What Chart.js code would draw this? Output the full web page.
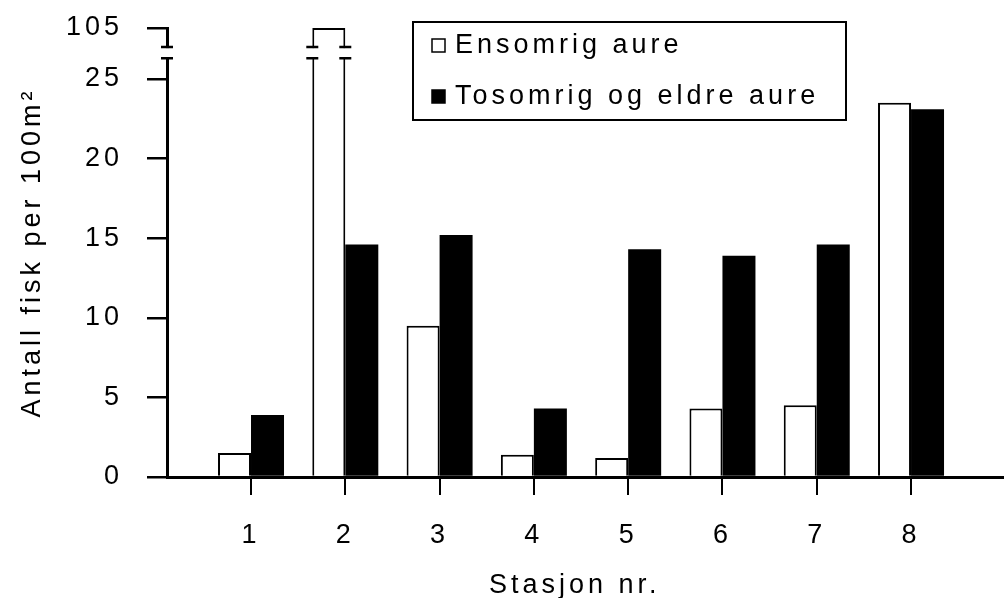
<!DOCTYPE html>
<html>
<head>
<meta charset="utf-8">
<script src="https://cdn.jsdelivr.net/npm/chart.js@4"></script>
<style>
  html, body { margin: 0; padding: 0; background: #fff; }
</style>
</head>
<body>
<canvas id="chart" width="1004" height="598"></canvas>
<script>
// ── Data ─────────────────────────────────────────────────────
const stations = [1, 2, 3, 4, 5, 6, 7, 8];
const ensomrig = [1.5, 105, 9.5, 1.4, 1.2, 4.3, 4.5, 23.5];
const tosomrig = [3.9, 14.6, 15.2, 4.3, 14.3, 13.9, 14.6, 23.1];
const yTicks = [0, 5, 10, 15, 20, 25, 105];
const seriesLabels = ['Ensomrig aure', 'Tosomrig og eldre aure'];
const xTitle = 'Stasjon nr.';

// ── Broken axis: anything above the break sits at the axis top ──
const BREAK_LOW = 26.3;
const BREAK_HIGH = 27.0;
const AXIS_TOP = 28.2;
const toAxis = v => (v > BREAK_HIGH ? AXIS_TOP : v);

const FONT = { family: '"Liberation Sans", Arial, Helvetica, sans-serif', size: 27 };
const SPACING = '4px';

// letter spacing for all text (old Mac-style wide type)
const spacingPlugin = {
    id: 'spacing',
    beforeDraw(chart) { chart.ctx.letterSpacing = SPACING; },
};

// axis break + broken bar + framed legend + x title
const breakPlugin = {
    id: 'axisBreak',
    afterDraw(chart) {
        const { ctx, scales: { x, y } } = chart;
        const yHi = y.getPixelForValue(BREAK_HIGH);
        const yLo = y.getPixelForValue(BREAK_LOW);
        const axisX = x.left;

        ctx.save();
        ctx.fillStyle = '#fff';
        ctx.strokeStyle = '#000';
        ctx.lineWidth = 2.5;

        // gap in the y axis
        ctx.fillRect(axisX - 4, yHi + 1, 8, yLo - yHi - 2);
        ctx.beginPath();
        ctx.moveTo(axisX - 6, yHi); ctx.lineTo(axisX + 6, yHi);
        ctx.moveTo(axisX - 6, yLo); ctx.lineTo(axisX + 6, yLo);
        ctx.stroke();

        // gap in every bar that crosses the break
        chart.data.datasets.forEach((ds, di) => {
            chart.getDatasetMeta(di).data.forEach((bar, i) => {
                if (ds.raw[i] <= BREAK_HIGH) return;
                const l = bar.x - bar.width / 2;
                const r = bar.x + bar.width / 2;
                ctx.fillRect(l - 3, yHi + 1, r - l + 6, yLo - yHi - 2);
                ctx.beginPath();
                [l, r].forEach(px => {
                    ctx.moveTo(px - 6, yHi); ctx.lineTo(px + 6, yHi);
                    ctx.moveTo(px - 6, yLo); ctx.lineTo(px + 6, yLo);
                });
                ctx.stroke();
            });
        });

        ctx.font = `${FONT.size}px ${FONT.family}`;
        ctx.letterSpacing = SPACING;
        ctx.textBaseline = 'middle';

        // x axis title (sits a bit left of the plot centre in the original)
        ctx.fillStyle = '#000';
        ctx.textAlign = 'left';
        ctx.fillText(xTitle, 489, 586);

        // legend box
        const bx = 413, by = 22, bw = 433, bh = 98;
        ctx.fillStyle = '#fff';
        ctx.fillRect(bx, by, bw, bh);
        ctx.lineWidth = 2;
        ctx.strokeRect(bx, by, bw, bh);
        const rows = [45, 96];
        chart.data.datasets.forEach((ds, di) => {
            const cy = rows[di];
            ctx.fillStyle = ds.backgroundColor;
            ctx.fillRect(432, cy - 6, 13, 13);
            ctx.lineWidth = 1.5;
            ctx.strokeRect(432, cy - 6, 13, 13);
            ctx.fillStyle = '#000';
            ctx.fillText(ds.label, 455, cy + 1);
        });
        ctx.restore();
    },
};

new Chart(document.getElementById('chart'), {
    type: 'bar',
    data: {
        datasets: [
            {
                label: seriesLabels[0],
                raw: ensomrig,
                data: stations.map((s, i) => ({ x: s, y: toAxis(ensomrig[i]) })),
                backgroundColor: '#fff',
                borderColor: '#000',
                borderWidth: 2,
            },
            {
                label: seriesLabels[1],
                raw: tosomrig,
                data: stations.map((s, i) => ({ x: s, y: toAxis(tosomrig[i]) })),
                backgroundColor: '#000',
                borderColor: '#000',
                borderWidth: 0,
            },
        ],
    },
    options: {
        responsive: false,
        animation: false,
        layout: { padding: { left: 0, right: 0, top: 28, bottom: 0 } },
        datasets: { bar: { categoryPercentage: 0.70, barPercentage: 1.0 } },
        plugins: {
            legend: { display: false },
            tooltip: {
                callbacks: {
                    label: c => `${c.dataset.label}: ${c.dataset.raw[c.dataIndex]}`,
                },
            },
        },
        scales: {
            x: {
                type: 'linear',
                offset: false,
                min: 0.109,
                max: 8.986,
                afterBuildTicks: s => { s.ticks = stations.map(v => ({ value: v })); },
                afterFit: s => { s.height = 121; s.paddingLeft = 0; s.paddingRight = 0; },
                ticks: {
                    color: '#000',
                    font: FONT,
                    padding: 24,
                    maxRotation: 0,
                    callback: v => String(v),
                },
                grid: {
                    offset: false,
                    drawOnChartArea: false,
                    drawTicks: true,
                    tickLength: 18,
                    color: '#000',
                    lineWidth: 2,
                },
                border: { display: true, color: '#000', width: 3 },
                title: { display: false, text: xTitle },
            },
            y: {
                min: 0,
                max: AXIS_TOP,
                afterBuildTicks: s => { s.ticks = yTicks.map(v => ({ value: toAxis(v) })); },
                afterFit: s => { s.width = 167; s.paddingTop = 0; s.paddingBottom = 0; },
                ticks: {
                    color: '#000',
                    font: FONT,
                    padding: 24,
                    callback: v => String(yTicks[yTicks.map(toAxis).indexOf(v)]),
                },
                grid: {
                    drawOnChartArea: false,
                    drawTicks: true,
                    tickLength: 20,
                    color: '#000',
                    lineWidth: 2.5,
                },
                border: { display: true, color: '#000', width: 3 },
                title: {
                    display: true,
                    text: 'Antall fisk per 100m²',
                    color: '#000',
                    font: FONT,
                    padding: { top: 16, bottom: 0 },
                },
            },
        },
    },
    plugins: [spacingPlugin, breakPlugin],
});
</script>
</body>
</html>
